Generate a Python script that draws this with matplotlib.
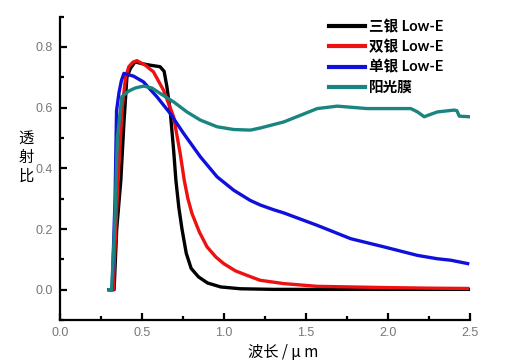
import matplotlib
matplotlib.use("Agg")
from matplotlib import pyplot as plt
from matplotlib.ticker import MultipleLocator

# wavelength (um) / transmittance
tri_x = [0.30, 0.33, 0.346, 0.371, 0.39, 0.408, 0.43, 0.458, 0.50, 0.55, 0.61, 0.635,
         0.652, 0.672, 0.693, 0.707, 0.725, 0.744, 0.77, 0.80, 0.845, 0.90, 0.98,
         1.10, 1.30, 1.60, 2.00, 2.50]
tri_y = [0.0, 0.0, 0.2, 0.36, 0.55, 0.70, 0.73, 0.751, 0.745, 0.74, 0.735, 0.72,
         0.669, 0.59, 0.46, 0.36, 0.27, 0.2, 0.12, 0.07, 0.042, 0.022, 0.009,
         0.003, 0.001, 0.001, 0.001, 0.001]

dbl_x = [0.30, 0.325, 0.34, 0.36, 0.38, 0.40, 0.42, 0.445, 0.469, 0.52, 0.57, 0.631,
         0.693, 0.733, 0.758, 0.78, 0.805, 0.85, 0.897, 0.95, 0.998, 1.07, 1.141,
         1.22, 1.365, 1.569, 1.976, 2.25, 2.486]
dbl_y = [0.0, 0.0, 0.2, 0.42, 0.6, 0.70, 0.735, 0.75, 0.755, 0.74, 0.718, 0.658,
         0.57, 0.449, 0.36, 0.30, 0.251, 0.19, 0.141, 0.108, 0.086, 0.062, 0.047,
         0.031, 0.02, 0.011, 0.007, 0.005, 0.004]

sgl_x = [0.30, 0.318, 0.336, 0.345, 0.36, 0.375, 0.39, 0.408, 0.448, 0.509, 0.591,
         0.672, 0.754, 0.856, 0.958, 1.059, 1.161, 1.222, 1.30, 1.365, 1.569, 1.773,
         1.976, 2.18, 2.30, 2.384, 2.486]
sgl_y = [0.0, 0.0, 0.3, 0.59, 0.65, 0.69, 0.713, 0.71, 0.704, 0.685, 0.636,
         0.581, 0.515, 0.438, 0.372, 0.328, 0.294, 0.279, 0.264, 0.253, 0.212, 0.168,
         0.141, 0.113, 0.102, 0.097, 0.086]

film_x = [0.30, 0.315, 0.333, 0.35, 0.377, 0.42, 0.46, 0.509, 0.56, 0.611, 0.693,
          0.774, 0.856, 0.958, 1.059, 1.161, 1.222, 1.365, 1.569, 1.691, 1.874,
          2.139, 2.18, 2.221, 2.26, 2.302, 2.404, 2.42, 2.435, 2.496]
film_y = [0.0, 0.0, 0.2, 0.5, 0.636, 0.655, 0.665, 0.671, 0.665, 0.647, 0.619,
          0.586, 0.559, 0.537, 0.528, 0.526, 0.533, 0.553, 0.597, 0.605, 0.597,
          0.597, 0.586, 0.57, 0.578, 0.586, 0.592, 0.59, 0.572, 0.57]

labels = ['三银 Low-E', '双银 Low-E', '单银 Low-E', '阳光膜']
colors = ['black', '#ee1111', '#1010dd', '#1a8580']


def main():
    plt.rcParams['font.family'] = ['Liberation Sans', 'DejaVu Sans']
    fig = plt.figure(figsize=(5.17, 3.62), dpi=100)
    ax = fig.add_axes([0.116, 0.116, 0.793, 0.838])

    series = [(tri_x, tri_y), (dbl_x, dbl_y), (sgl_x, sgl_y), (film_x, film_y)]
    for (x, y), lab, c in zip(series, labels, colors):
        ax.plot(x, y, color=c, lw=2.4, label=lab, solid_joinstyle='round')

    ax.set_xlim(0, 2.5)
    ax.set_ylim(-0.1, 0.9)
    ax.xaxis.set_minor_locator(MultipleLocator(0.25))
    ax.yaxis.set_minor_locator(MultipleLocator(0.1))
    ax.set_xticks([0, 0.5, 1.0, 1.5, 2.0, 2.5])
    ax.set_xticklabels(['0.0', '0.5', '1.0', '1.5', '2.0', '2.5'])
    ax.set_yticks([0.0, 0.2, 0.4, 0.6, 0.8])
    ax.set_yticklabels(['0.0', '0.2', '0.4', '0.6', '0.8'])

    for s in ['top', 'right']:
        ax.spines[s].set_visible(False)
    for s in ['left', 'bottom']:
        ax.spines[s].set_linewidth(1.6)
    ax.tick_params(which='major', direction='in', length=5, width=1.6,
                   labelsize=9, labelcolor='#777777', pad=5)
    ax.tick_params(which='minor', direction='in', length=3, width=1.6)

    fig.text(0.05, 0.565, '透\n射\n比', family=['Noto Sans CJK SC'], fontsize=11,
             ha='center', va='center', linespacing=1.15)
    fig.text(0.547, 0.027, '波长 / μ m', family=['Noto Sans CJK SC', 'DejaVu Serif'],
             fontsize=11, ha='center', va='center')

    leg = ax.legend(loc='upper left', bbox_to_anchor=(0.636, 0.945),
                    bbox_transform=fig.transFigure, frameon=False,
                    borderaxespad=0, borderpad=0,
                    handlelength=2.5, handletextpad=0.25, labelspacing=0.42,
                    prop={'family': ['Lato', 'Noto Sans CJK SC'], 'size': 10.5,
                          'weight': 'bold'})
    for line in leg.get_lines():
        line.set_linewidth(3)

    fig.savefig('out.png', dpi=100)


if __name__ == '__main__':
    main()
